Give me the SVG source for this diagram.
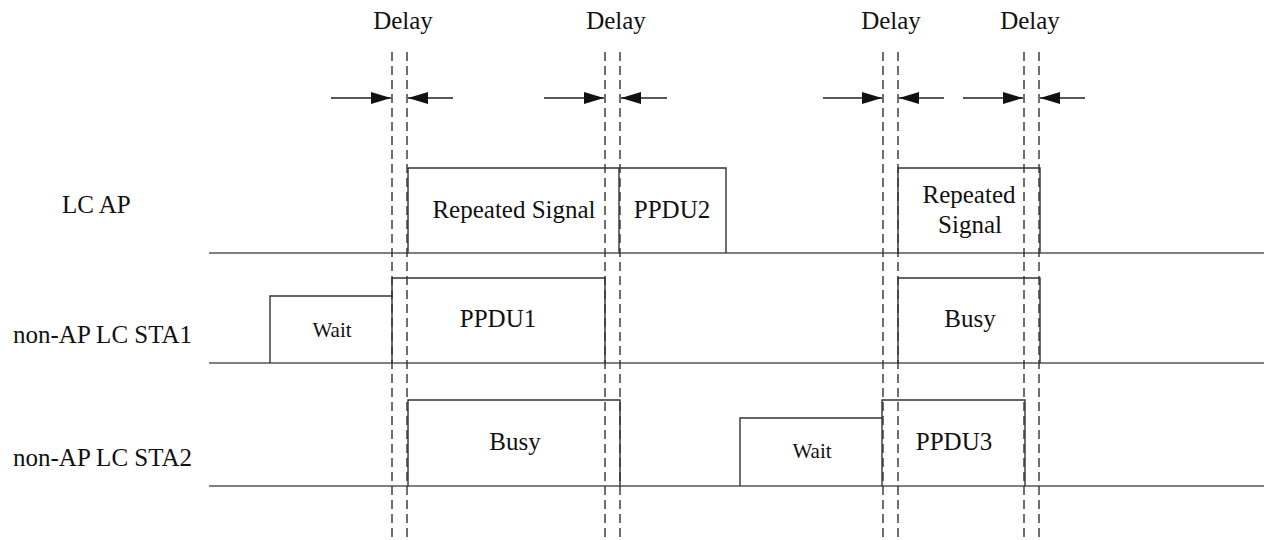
<svg xmlns="http://www.w3.org/2000/svg" width="1264" height="540" viewBox="0 0 1264 540">
<style>
.t{font-family:"Liberation Serif","Times New Roman",serif;font-size:25px;fill:#111}
.s{font-family:"Liberation Serif","Times New Roman",serif;font-size:21px;fill:#111}
.m{text-anchor:middle}
.base{stroke:#555;stroke-width:1.6;fill:none}
.box{stroke:#333;stroke-width:1.4;fill:none}
.dash{stroke:#333;stroke-width:1.4;stroke-dasharray:9 5;fill:none}
.arr{stroke:#222;stroke-width:1.4;fill:none}
</style>
<defs>
<marker id="ah" viewBox="0 0 20 12" refX="20" refY="6" markerWidth="20" markerHeight="12" markerUnits="userSpaceOnUse" orient="auto">
<path d="M0,0 L20,6 L0,12 Z" fill="#111"/>
</marker>
</defs>
<rect width="1264" height="540" fill="#fff"/>

<g id="labels">
<text class="t" x="62" y="213">LC AP</text>
<text class="t" x="13" y="343">non-AP LC STA1</text>
<text class="t" x="13" y="466">non-AP LC STA2</text>
</g>

<g id="timelines">
<line class="base" x1="209" y1="253" x2="1264" y2="253"/>
<line class="base" x1="209" y1="363" x2="1264" y2="363"/>
<line class="base" x1="209" y1="486" x2="1264" y2="486"/>
</g>

<g id="lcap-repeated-ppdu2">
<path class="box" d="M408,253 V168 H726 V253 M619,168 V253"/>
<text class="t m" x="514" y="218">Repeated Signal</text>
<text class="t m" x="672" y="218">PPDU2</text>
</g>

<g id="lcap-repeated2">
<path class="box" d="M898,253 V168 H1040 V253"/>
<text class="t m" x="969" y="203">Repeated</text>
<text class="t m" x="970" y="233">Signal</text>
</g>

<g id="sta1-wait-ppdu1">
<path class="box" d="M270,363 V296 H392 V278 H605 V363 M392,296 V363"/>
<text class="s m" x="332" y="337">Wait</text>
<text class="t m" x="498" y="327">PPDU1</text>
</g>

<g id="sta1-busy">
<path class="box" d="M898,363 V278 H1040 V363"/>
<text class="t m" x="970" y="327">Busy</text>
</g>

<g id="sta2-busy">
<path class="box" d="M408,486 V400 H620 V486"/>
<text class="t m" x="515" y="450">Busy</text>
</g>

<g id="sta2-wait-ppdu3">
<path class="box" d="M740,486 V418 H882 V400 H1025 V486 M882,418 V486"/>
<text class="s m" x="812" y="458">Wait</text>
<text class="t m" x="954" y="450">PPDU3</text>
</g>

<g id="delays">
<text class="t m" x="403" y="29">Delay</text>
<text class="t m" x="616" y="29">Delay</text>
<text class="t m" x="891" y="29">Delay</text>
<text class="t m" x="1030" y="29">Delay</text>
</g>

<g id="connectors">
<line class="dash" x1="392" y1="52" x2="392" y2="540"/>
<line class="dash" x1="407" y1="52" x2="407" y2="540"/>
<line class="dash" x1="605" y1="52" x2="605" y2="540"/>
<line class="dash" x1="620" y1="52" x2="620" y2="540"/>
<line class="dash" x1="883" y1="52" x2="883" y2="540"/>
<line class="dash" x1="898" y1="52" x2="898" y2="540"/>
<line class="dash" x1="1024" y1="52" x2="1024" y2="540"/>
<line class="dash" x1="1039" y1="52" x2="1039" y2="540"/>
<line class="arr" x1="331" y1="98" x2="391" y2="98" marker-end="url(#ah)"/>
<line class="arr" x1="453" y1="98" x2="408" y2="98" marker-end="url(#ah)"/>
<line class="arr" x1="544" y1="98" x2="604" y2="98" marker-end="url(#ah)"/>
<line class="arr" x1="667" y1="98" x2="621" y2="98" marker-end="url(#ah)"/>
<line class="arr" x1="823" y1="98" x2="882" y2="98" marker-end="url(#ah)"/>
<line class="arr" x1="944" y1="98" x2="899" y2="98" marker-end="url(#ah)"/>
<line class="arr" x1="963" y1="98" x2="1023" y2="98" marker-end="url(#ah)"/>
<line class="arr" x1="1085" y1="98" x2="1040" y2="98" marker-end="url(#ah)"/>
</g>
</svg>
